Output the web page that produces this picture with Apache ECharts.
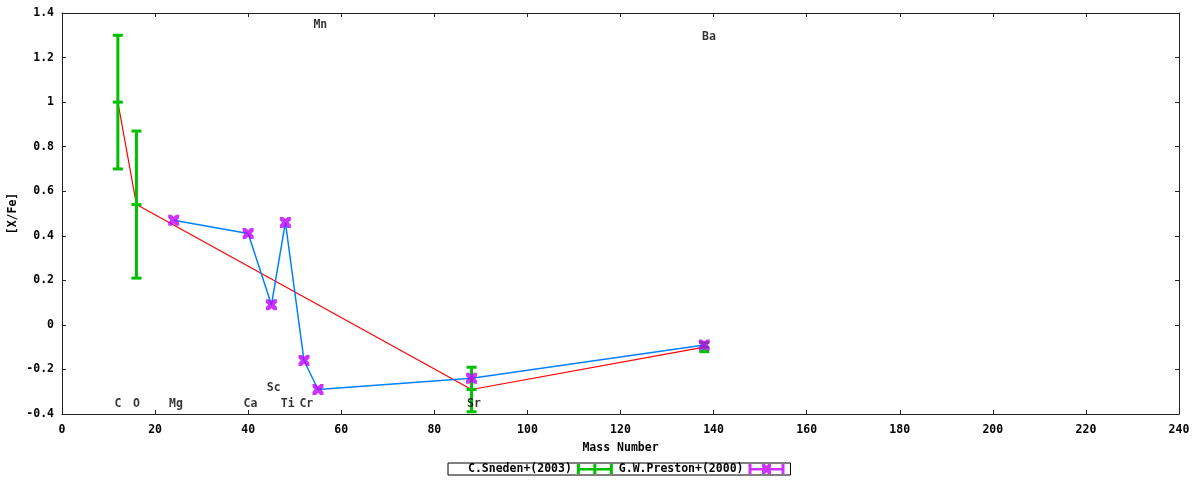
<!DOCTYPE html>
<html><head><meta charset="utf-8">
<script src="https://cdn.jsdelivr.net/npm/echarts@6/dist/echarts.min.js"></script>
<style>html,body{margin:0;padding:0;background:#fff}#c{width:1200px;height:480px}</style>
</head><body><div id="c"></div>
<script>
// Sneden+(2003): mass, [X/Fe], error
const snedenMass = [12, 16, 88, 138];
const snedenVal  = [1.0, 0.54, -0.29, -0.10];
const snedenErr  = [0.30, 0.33, 0.10, 0.02];
// Preston+(2000)
const prestonMass = [24, 40, 45, 48, 52, 55, 88, 138];
const prestonVal  = [0.47, 0.41, 0.09, 0.46, -0.16, -0.29, -0.24, -0.09];
// element labels (data coordinates)
const elemNames = ['C', 'O', 'Mg', 'Ca', 'Sc', 'Ti', 'Cr', 'Mn', 'Sr', 'Ba'];
const elemMass  = [12, 16, 24.5, 40.5, 45.5, 48.5, 52.5, 55.5, 88.5, 139];
const elemY     = [-0.355, -0.355, -0.355, -0.355, -0.283, -0.355, -0.355, 1.345, -0.355, 1.29];
const xTicks = [0, 240, 20];
const yTicks = [-0.4, 1.4, 0.2];

const FONT = 'DejaVu Sans Mono';
const GREEN = '#00c000', PURPLE = '#c000ff', RED = '#ff0000', BLUE = '#0080ff';
const txt = {color: '#000', fontFamily: FONT, fontWeight: 'bold', fontSize: 11.5};

const snedenData = snedenMass.map((m, i) => [m, snedenVal[i], snedenVal[i] - snedenErr[i], snedenVal[i] + snedenErr[i]]);
const prestonData = prestonMass.map((m, i) => [m, prestonVal[i]]);
const labelData = elemNames.map((n, i) => ({value: [elemMass[i], elemY[i]], name: n}));

const xSymbol = 'path://M0,0 L3,0 L5,2 L7,0 L10,0 L10,3 L8,5 L10,7 L10,10 L7,10 L5,8 L3,10 L0,10 L0,7 L2,5 L0,3 Z';
const greenIcon = 'path://M0,0 H3 V10 H0 Z M16.5,0 H19.5 V10 H16.5 Z M33,0 H36 V10 H33 Z M0,4 H36 V6.5 H0 Z';
const purpleIcon = 'path://M0,0 H3 V10 H0 Z M33,0 H36 V10 H33 Z M0,4 H36 V6.5 H0 Z M13.5,0 H16.5 L18,2 L19.5,0 H22.5 V3 L21,5 L22.5,7 V10 H19.5 L18,8 L16.5,10 H13.5 V7 L15,5 L13.5,3 Z';

function errRender(params, api) {
  const x = api.value(0);
  const c = api.coord([x, api.value(1)]);
  const lo = api.coord([x, api.value(2)]);
  const hi = api.coord([x, api.value(3)]);
  const w = 5;
  const st = {stroke: GREEN, lineWidth: 3};
  return {type: 'group', children: [
    {type: 'line', shape: {x1: lo[0], y1: lo[1], x2: hi[0], y2: hi[1]}, style: st},
    {type: 'line', shape: {x1: lo[0] - w, y1: lo[1], x2: lo[0] + w, y2: lo[1]}, style: st},
    {type: 'line', shape: {x1: hi[0] - w, y1: hi[1], x2: hi[0] + w, y2: hi[1]}, style: st},
    {type: 'line', shape: {x1: c[0] - w, y1: c[1], x2: c[0] + w, y2: c[1]}, style: st}
  ]};
}

const axisLine = {show: true, onZero: false, lineStyle: {color: '#222', width: 1}};
const tick = {show: true, inside: true, length: 4, lineStyle: {color: '#222'}};

const chart = echarts.init(document.getElementById('c'), null, {renderer: 'canvas'});
chart.setOption({
  animation: false,
  backgroundColor: '#fff',
  grid: {left: 62, right: 21, top: 13, bottom: 66, containLabel: false, outerBoundsMode: 'none'},
  legend: {
    left: 448, top: 463,
    align: 'right',
    itemWidth: 36, itemHeight: 10, itemGap: 6,
    padding: [0, 6, 0, 20],
    borderColor: '#000', borderWidth: 1,
    textStyle: Object.assign({lineHeight: 12}, txt),
    data: [
      {name: 'C.Sneden+(2003)', icon: greenIcon, itemStyle: {color: GREEN}},
      {name: 'G.W.Preston+(2000)', icon: purpleIcon, itemStyle: {color: PURPLE}}
    ]
  },
  xAxis: [{
    type: 'value', min: xTicks[0], max: xTicks[1], interval: xTicks[2],
    name: 'Mass Number', nameLocation: 'middle', nameGap: 28, nameMoveOverlap: false, nameTextStyle: txt,
    axisLine: axisLine, axisTick: tick, splitLine: {show: false},
    axisLabel: Object.assign({margin: 10}, txt)
  }, {
    type: 'value', position: 'top', min: xTicks[0], max: xTicks[1], interval: xTicks[2],
    axisLine: axisLine, axisTick: tick, splitLine: {show: false}, axisLabel: {show: false}
  }],
  yAxis: [{
    type: 'value', min: yTicks[0], max: yTicks[1], interval: yTicks[2],
    name: '[X/Fe]', nameLocation: 'middle', nameGap: 43, nameMoveOverlap: false, nameTextStyle: txt,
    axisLine: axisLine, axisTick: tick, splitLine: {show: false},
    axisLabel: Object.assign({margin: 8}, txt)
  }, {
    type: 'value', position: 'right', min: yTicks[0], max: yTicks[1], interval: yTicks[2],
    axisLine: axisLine, axisTick: tick, splitLine: {show: false}, axisLabel: {show: false}
  }],
  series: [
    {type: 'line', name: 'snedenLine', data: snedenData.map(d => [d[0], d[1]]), showSymbol: false,
     lineStyle: {color: RED, width: 1.2}, z: 1, silent: true},
    {type: 'custom', name: 'C.Sneden+(2003)', data: snedenData, renderItem: errRender,
     itemStyle: {color: GREEN}, z: 2, clip: true},
    {type: 'line', name: 'prestonLine', data: prestonData, showSymbol: false,
     lineStyle: {color: BLUE, width: 1.5}, z: 3, silent: true},
    {type: 'scatter', name: 'G.W.Preston+(2000)', data: prestonData, symbol: xSymbol, symbolSize: 11,
     itemStyle: {color: PURPLE}, z: 4},
    {type: 'scatter', name: 'labels', data: labelData, symbolSize: 1, itemStyle: {color: 'rgba(0,0,0,0)'},
     label: Object.assign({show: true, position: 'inside', formatter: p => p.name}, txt), z: 5, silent: true}
  ]
});
</script>
</body></html>
